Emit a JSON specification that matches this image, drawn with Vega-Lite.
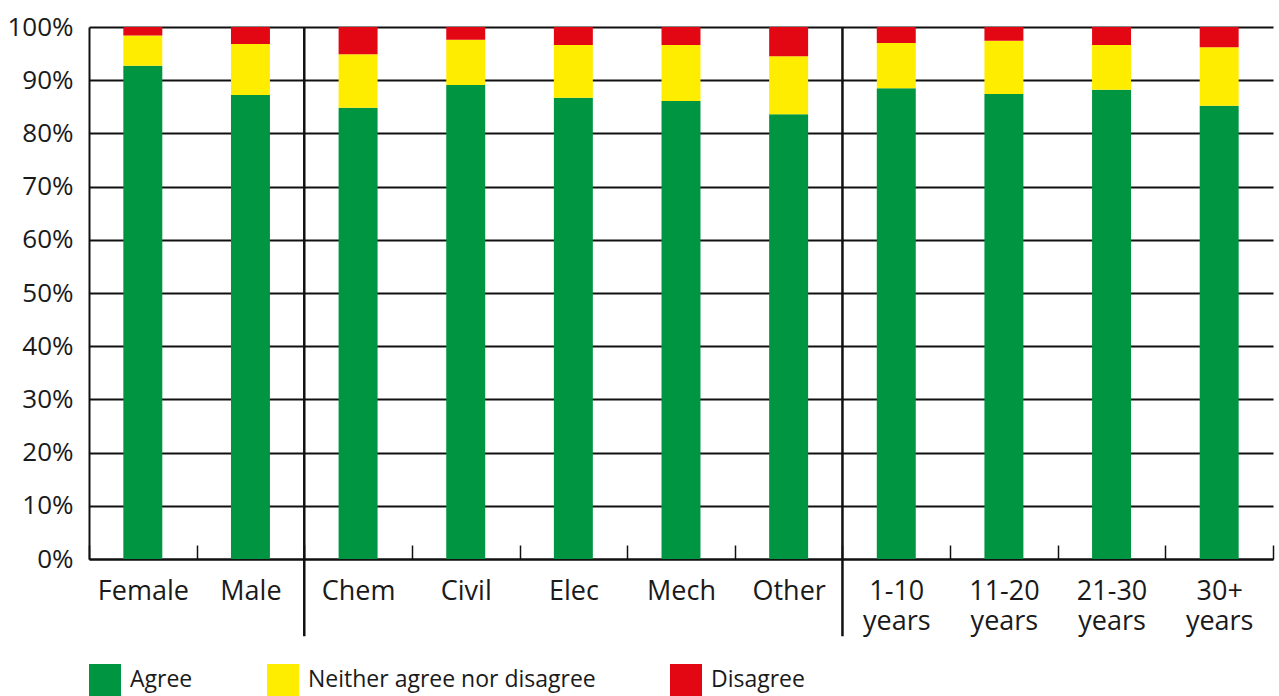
{
  "$schema": "https://vega.github.io/schema/vega-lite/v6.json",
  "autosize": {"type": "none"},
  "width": 1184,
  "height": 532,
  "padding": {"left": 89, "top": 27, "right": 6, "bottom": 137},
  "background": "white",
  "config": {
    "font": "Open Sans",
    "view": {"stroke": null}
  },
  "layer": [
    {
      "data": {
        "values": [
          {"group": "Female", "response": "Agree", "pct": 92.7},
          {"group": "Female", "response": "Neither agree nor disagree", "pct": 5.7},
          {"group": "Female", "response": "Disagree", "pct": 1.6},
          {"group": "Male", "response": "Agree", "pct": 87.2},
          {"group": "Male", "response": "Neither agree nor disagree", "pct": 9.6},
          {"group": "Male", "response": "Disagree", "pct": 3.2},
          {"group": "Chem", "response": "Agree", "pct": 84.8},
          {"group": "Chem", "response": "Neither agree nor disagree", "pct": 10.1},
          {"group": "Chem", "response": "Disagree", "pct": 5.1},
          {"group": "Civil", "response": "Agree", "pct": 89.1},
          {"group": "Civil", "response": "Neither agree nor disagree", "pct": 8.5},
          {"group": "Civil", "response": "Disagree", "pct": 2.4},
          {"group": "Elec", "response": "Agree", "pct": 86.7},
          {"group": "Elec", "response": "Neither agree nor disagree", "pct": 9.9},
          {"group": "Elec", "response": "Disagree", "pct": 3.4},
          {"group": "Mech", "response": "Agree", "pct": 86.1},
          {"group": "Mech", "response": "Neither agree nor disagree", "pct": 10.5},
          {"group": "Mech", "response": "Disagree", "pct": 3.4},
          {"group": "Other", "response": "Agree", "pct": 83.6},
          {"group": "Other", "response": "Neither agree nor disagree", "pct": 10.9},
          {"group": "Other", "response": "Disagree", "pct": 5.5},
          {"group": "1-10 years", "response": "Agree", "pct": 88.5},
          {"group": "1-10 years", "response": "Neither agree nor disagree", "pct": 8.5},
          {"group": "1-10 years", "response": "Disagree", "pct": 3.0},
          {"group": "11-20 years", "response": "Agree", "pct": 87.4},
          {"group": "11-20 years", "response": "Neither agree nor disagree", "pct": 10.0},
          {"group": "11-20 years", "response": "Disagree", "pct": 2.6},
          {"group": "21-30 years", "response": "Agree", "pct": 88.2},
          {"group": "21-30 years", "response": "Neither agree nor disagree", "pct": 8.4},
          {"group": "21-30 years", "response": "Disagree", "pct": 3.4},
          {"group": "30+ years", "response": "Agree", "pct": 85.2},
          {"group": "30+ years", "response": "Neither agree nor disagree", "pct": 11.0},
          {"group": "30+ years", "response": "Disagree", "pct": 3.8}
        ]
      },
      "transform": [
        {"calculate": "indexof(['Agree', 'Neither agree nor disagree', 'Disagree'], datum.response)", "as": "stackOrder"}
      ],
      "mark": {"type": "bar", "width": {"band": 0.362}},
      "encoding": {
        "x": {
          "field": "group",
          "type": "nominal",
          "scale": {
            "domain": ["Female", "Male", "Chem", "Civil", "Elec", "Mech", "Other", "1-10 years", "11-20 years", "21-30 years", "30+ years"],
            "paddingInner": 0,
            "paddingOuter": 0
          },
          "axis": {
            "title": null,
            "labelAngle": 0,
            "labelFontSize": 27,
            "labelColor": "#1a1a1a",
            "labelExpr": "indexof(datum.label, 'years') > 0 ? split(datum.label, ' ') : datum.label",
            "labelLineHeight": 30,
            "labelPadding": 33,
            "labelBaseline": "top",
            "tickBand": "extent",
            "tickSize": -14,
            "tickColor": "#111",
            "tickWidth": 1.5,
            "domainColor": "#111",
            "domainWidth": 2,
            "grid": false
          }
        },
        "y": {
          "field": "pct",
          "type": "quantitative",
          "stack": "zero",
          "scale": {"domain": [0, 100], "nice": false},
          "axis": {
            "title": null,
            "values": [0, 10, 20, 30, 40, 50, 60, 70, 80, 90, 100],
            "labelExpr": "datum.value + '%'",
            "labelFontSize": 26,
            "labelColor": "#1a1a1a",
            "labelPadding": 16,
            "ticks": false,
            "grid": true,
            "gridColor": "#111",
            "gridWidth": 2,
            "domainColor": "#111",
            "domainWidth": 2
          }
        },
        "color": {
          "field": "response",
          "type": "nominal",
          "scale": {
            "domain": ["Agree", "Neither agree nor disagree", "Disagree"],
            "range": ["#009540", "#FFED00", "#E30613"]
          },
          "legend": {
            "title": null,
            "orient": "none",
            "legendX": 0,
            "legendY": 637,
            "direction": "horizontal",
            "symbolType": "square",
            "symbolSize": 1024,
            "symbolStrokeWidth": 0,
            "labelFontSize": 23,
            "labelColor": "#1a1a1a",
            "labelOffset": 9,
            "labelLimit": 0,
            "columnPadding": 74
          }
        },
        "order": {"field": "stackOrder", "type": "quantitative"}
      }
    },
    {
      "data": {"values": [{"group": "Chem"}, {"group": "1-10 years"}]},
      "mark": {"type": "rule", "color": "#111", "strokeWidth": 2.5},
      "encoding": {
        "x": {"field": "group", "type": "nominal", "bandPosition": 0},
        "y": {"datum": 100},
        "y2": {"datum": -14.5}
      }
    }
  ]
}
